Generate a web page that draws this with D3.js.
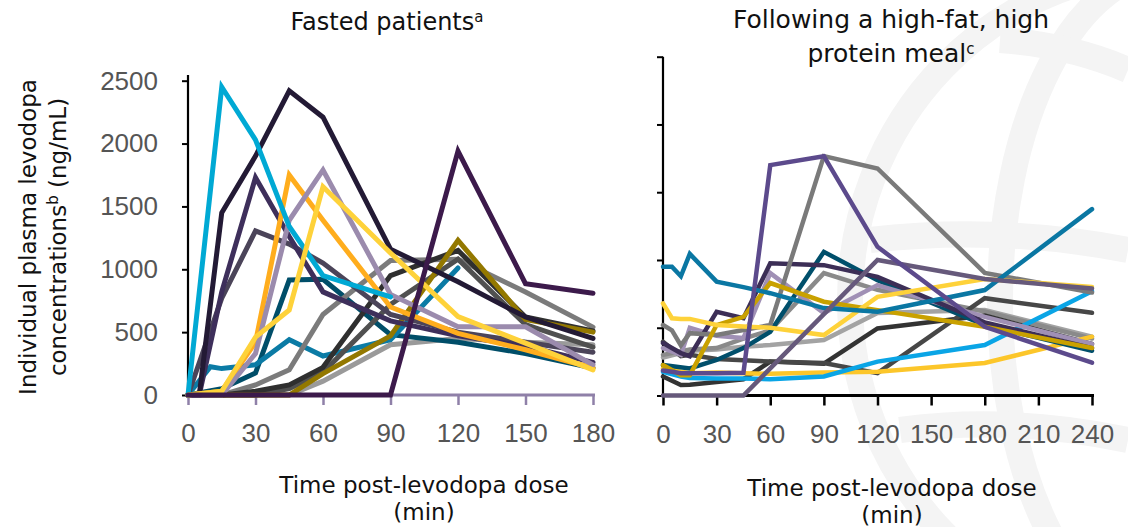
<!DOCTYPE html>
<html>
<head>
<meta charset="utf-8">
<script src="https://cdn.jsdelivr.net/npm/d3@7"></script>
<style>
  body { margin: 0; background: #fff; }
  svg { display: block; font-family: Inter, "Noto Sans", sans-serif; }
  .ttl { font-family: "DejaVu Sans", Inter, sans-serif; }
</style>
</head>
<body>
<div id="chart"></div>
<script>
// time points (min)
const timesFasted = [0, 5, 10, 15, 30, 45, 60, 90, 120, 150, 180];
const timesFed = [0, 5, 10, 15, 30, 45, 60, 90, 120, 180, 240];

const yTicks = [0, 500, 1000, 1500, 2000, 2500];
const xTicksFasted = [0, 30, 60, 90, 120, 150, 180];
const xTicksFed = [0, 30, 60, 90, 120, 150, 180, 210, 240];

// fasted patients, one array per patient (ng/mL), null = no sample read
const fastedLightGray = [0, null, null, 0, 0, 0, 110, 400, 450, 420, 400];
const fastedDarkTeal = [0, null, null, 50, 175, 915, 920, 480, 420, 330, 215];
const fastedBlue = [0, null, 225, 210, 240, 440, 310, 440, 1010, null, null];
const fastedGray = [0, null, null, 0, 80, 200, 640, 1070, 1080, 820, 540];
const fastedDarkGray = [0, null, null, 0, 0, 50, 180, 720, 1080, 560, 380];
const fastedCharcoal = [0, null, null, 0, 30, 80, 220, 950, 1150, 620, 510];
const fastedOlive = [0, null, null, 0, 0, 0, 170, 470, 1230, 600, 500];
const fastedGrayPurple = [0, null, null, 770, 1305, 1200, 1050, 640, 500, 420, 340];
const fastedDarkPurple = [0, 0, null, 820, 1730, 1260, 820, 590, 470, 390, 260];
const fastedNavy = [0, 0, null, 1450, 1900, 2420, 2210, 1160, 900, 620, 450];
const fastedOrange = [0, null, null, 30, 420, 1750, 1390, 700, 490, 360, 215];
const fastedLavender = [0, null, null, 0, 330, 1390, 1790, 800, 543, 543, 240];
const fastedCyan = [0, null, null, 2450, 2030, 1340, 950, 780, null, null, null];
const fastedYellow = [0, null, null, 30, 460, 676, 1657, 1130, 623, 413, 200];
const fastedPlum = [0, null, null, 0, 0, 0, 0, 0, 1940, 885, 810];

// after a high-fat, high protein meal
const fedLightGray = [280, null, null, 330, 340, 360, 372, 410, 608, 630, 434];
const fedMidGray = [300, null, null, 340, 350, 420, 480, 903, 780, 620, 420];
const fedCharcoal = [140, null, 77, 80, 100, 120, 250, 235, 495, 590, 380];
const fedDarkGray = [397, null, 290, 300, 270, 260, 250, 240, 165, 718, 610];
const fedYellow2 = [200, null, null, 165, 170, 165, 160, 170, 175, 240, 434];
const fedCyan = [175, null, 140, 130, 125, 125, 120, 140, 250, 372, 770];
const fedDarkTeal = [225, null, null, 200, 262, 350, 470, 1060, 850, 520, 330];
const fedLavender = [350, null, 300, 500, 440, 424, 903, 608, 815, 580, 380];
const fedDarkPurple = [387, null, 313, 290, 618, 570, 975, 962, 875, 540, 350];
const fedGray = [520, 480, 370, 460, 446, 483, 520, 1766, 1675, 905, 760];
const fedGold = [225, null, 150, 150, 520, 580, 830, 692, 630, 507, 350];
const fedYellow = [680, 570, 565, 565, 520, 510, 500, 446, 728, 860, 800];
const fedBlue = [950, 950, 880, 1045, 840, 800, 755, 645, 618, 778, 1375];
const fedPurpleGray = [0, null, null, 0, 0, 0, null, null, 1000, 860, 790];
const fedPurple = [185, 175, 165, 165, 165, 168, 1700, 1766, 1097, 507, 242];

const fastedSeries = [
  { v: fastedLightGray, c: "#9a9a9a" },
  { v: fastedDarkTeal, c: "#004e69" },
  { v: fastedBlue, c: "#0b7ba5" },
  { v: fastedGray, c: "#7b7b7b" },
  { v: fastedDarkGray, c: "#505050" },
  { v: fastedCharcoal, c: "#2f2f2f" },
  { v: fastedOlive, c: "#937800" },
  { v: fastedGrayPurple, c: "#4b4459" },
  { v: fastedDarkPurple, c: "#3e2f5b" },
  { v: fastedNavy, c: "#231a35" },
  { v: fastedOrange, c: "#ffad1d" },
  { v: fastedLavender, c: "#9b8bad" },
  { v: fastedCyan, c: "#00a9d4" },
  { v: fastedYellow, c: "#fed23a" },
  { v: fastedPlum, c: "#3c1a4b" }
];

const fedSeries = [
  { v: fedLightGray, c: "#a3a3a3" },
  { v: fedMidGray, c: "#8a8a8a" },
  { v: fedCharcoal, c: "#333333" },
  { v: fedDarkGray, c: "#474747" },
  { v: fedYellow2, c: "#fcc62a" },
  { v: fedCyan, c: "#0aa5e6" },
  { v: fedDarkTeal, c: "#004f6b" },
  { v: fedLavender, c: "#a090b5" },
  { v: fedDarkPurple, c: "#3c2e56" },
  { v: fedGray, c: "#7a7a7a" },
  { v: fedGold, c: "#c9a100" },
  { v: fedYellow, c: "#fed23a" },
  { v: fedBlue, c: "#0a77a3" },
  { v: fedPurpleGray, c: "#66597b" },
  { v: fedPurple, c: "#5c4a8c" }
];

const width = 1128, height = 527;

const svg = d3.select("#chart").append("svg")
  .attr("width", width)
  .attr("height", height);

// faint globe watermark
let wm = svg.append("g")
  .attr("fill", "none")
  .attr("stroke", "#f4f4f4")
  .attr("stroke-width", 26);
wm.append("ellipse").attr("cx", 1170).attr("cy", 300).attr("rx", 320).attr("ry", 330);
wm.append("ellipse").attr("cx", 1170).attr("cy", 300).attr("rx", 170).attr("ry", 330);
wm.append("path").attr("d", "M1000,40 Q1070,45 1128,70");
wm.append("path").attr("d", "M870,240 Q1000,225 1128,250");
wm.append("path").attr("d", "M900,430 Q1010,415 1128,440");

// scales
let xL = d3.scaleLinear().domain([0, 180]).range([188, 593]);
let yL = d3.scaleLinear().domain([0, 2500]).range([395, 80.7]);
let xR = d3.scaleLinear().domain([0, 240]).range([663, 1092]);
let yR = d3.scaleLinear().domain([0, 2500]).range([395.5, 56.7]);

function drawAxes(x, y, xTicks, xColor, showYLabels, yTop) {
  // y axis
  let ya = svg.append("g")
    .attr("transform", `translate(${x(0)},0)`)
    .call(d3.axisLeft(y).tickValues(yTicks).tickSize(6).tickPadding(24)
      .tickFormat(showYLabels ? d3.format("d") : ""));
  ya.select(".domain").remove();
  ya.selectAll(".tick line").attr("stroke", "#000").attr("stroke-width", 2);
  ya.selectAll(".tick text").attr("fill", "#555").style("font-size", "26px");
  ya.append("line")
    .attr("x1", 0).attr("x2", 0)
    .attr("y1", yTop).attr("y2", y(0) + 1)
    .attr("stroke", "#000").attr("stroke-width", 2.2);

  // x axis
  let xa = svg.append("g")
    .attr("transform", `translate(0,${y(0)})`)
    .call(d3.axisBottom(x).tickValues(xTicks).tickSize(10).tickPadding(19).tickFormat(d3.format("d")));
  xa.select(".domain").remove();
  xa.selectAll(".tick line").attr("stroke", xColor).attr("stroke-width", 2.5);
  xa.selectAll(".tick text").attr("fill", "#555").style("font-size", "26px");
  xa.append("line")
    .attr("x1", x.range()[0] - 2).attr("x2", x.range()[1] + 2)
    .attr("y1", 0).attr("y2", 0)
    .attr("stroke", xColor).attr("stroke-width", 3);
}

drawAxes(xL, yL, xTicksFasted, "#8f80a8", true, 75);
drawAxes(xR, yR, xTicksFed, "#000", false, 56.7);

function drawLines(series, times, x, y, w) {
  let line = d3.line()
    .x(d => x(d.t))
    .y(d => y(d.v));
  svg.append("g").selectAll("path")
    .data(series)
    .enter()
    .append("path")
    .attr("d", s => line(times.map((t, i) => ({ t: t, v: s.v[i] })).filter(d => d.v !== null)))
    .attr("fill", "none")
    .attr("stroke", s => s.c)
    .attr("stroke-width", w)
    .attr("stroke-linecap", "round")
    .attr("stroke-linejoin", "miter");
}

drawLines(fastedSeries, timesFasted, xL, yL, 5);
drawLines(fedSeries, timesFed, xR, yR, 4.5);

// titles
function addText(x, y, size, color, len) {
  let t = svg.append("text")
    .attr("class", "ttl")
    .attr("x", x).attr("y", y)
    .attr("text-anchor", "middle")
    .attr("fill", color)
    .style("font-size", size + "px");
  return t;
}

let t1 = addText(387, 30, 24, "#111");
t1.append("tspan").text("Fasted patients");
t1.append("tspan").text("a").attr("dy", -8).style("font-size", "15px");

addText(891, 28, 25, "#111").text("Following a high-fat, high");
let t2 = addText(891, 62, 25, "#111");
t2.append("tspan").text("protein meal");
t2.append("tspan").text("c").attr("dy", -8).style("font-size", "15px");

// y axis title
let yt = svg.append("g").attr("transform", "translate(0,237) rotate(-90)");
yt.append("text").attr("class", "ttl").attr("x", 0).attr("y", 36).attr("text-anchor", "middle")
  .attr("fill", "#111").style("font-size", "23px").text("Individual plasma levodopa");
let yt2 = yt.append("text").attr("class", "ttl").attr("x", 0).attr("y", 66).attr("text-anchor", "middle")
  .attr("fill", "#111").style("font-size", "23px");
yt2.append("tspan").text("concentrations");
yt2.append("tspan").text("b").attr("dy", -8).style("font-size", "15px");
yt2.append("tspan").text(" (ng/mL)").attr("dy", 8);

// x axis titles
addText(424, 493, 23, "#111").text("Time post-levodopa dose");
addText(424, 520, 23, "#111").text("(min)");
addText(892, 496, 23, "#111").text("Time post-levodopa dose");
addText(892, 523, 23, "#111").text("(min)");
</script>
</body>
</html>
